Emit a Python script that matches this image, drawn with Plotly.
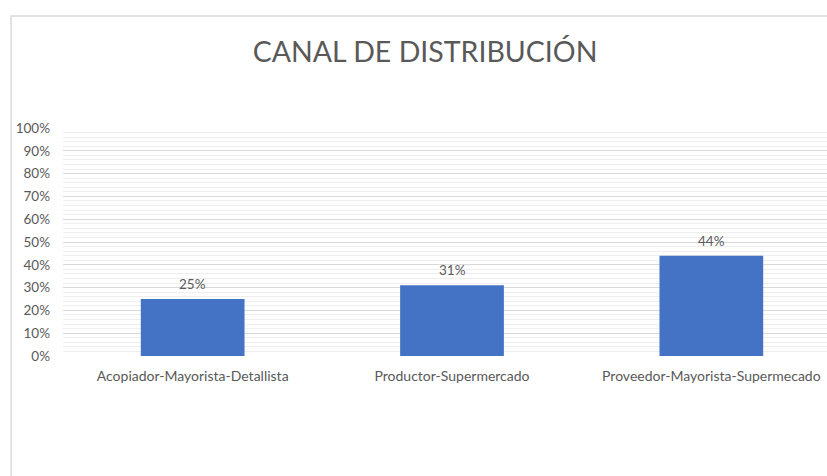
import plotly.graph_objects as go

categories = ['Acopiador-Mayorista-Detallista', 'Productor-Supermercado',
              'Proveedor-Mayorista-Supermecado']
shares = [0.25, 0.31, 0.44]
labels = ['25%', '31%', '44%']

TXT = '#595959'
FONT = 'Lato'

fig = go.Figure()

fig.add_trace(
    go.Bar(
        x=categories,
        y=shares,
        marker={'color': '#4472c4', 'line': {'width': 0}},
        width=0.4,
        hoverinfo='skip',
    )
)

# data labels above each bar
for c, v, t in zip(categories, shares, labels):
    fig.add_annotation(
        x=c, y=v, text=t, showarrow=False,
        yanchor='bottom', yshift=5,
        font={'color': TXT, 'size': 13.5, 'family': FONT},
    )

# chart area border (Excel frame, runs off the page right/bottom)
fig.add_shape(
    type='rect', xref='paper', yref='paper',
    x0=-0.068, x1=1.2, y0=-1.0, y1=1.491,
    line={'color': '#d9d9d9', 'width': 1.5},
    fillcolor='rgba(0,0,0,0)', layer='below',
)

fig.update_xaxes(
    type='category',
    range=[-0.5, 2.446],
    showgrid=False,
    showline=False,
    ticks='',
    ticklabelstandoff=10,
    tickfont={'color': TXT, 'size': 14, 'family': FONT},
)

fig.update_yaxes(
    range=[0, 1.0],
    dtick=0.1,
    tickformat='.0%',
    gridcolor='#d9d9d9',
    gridwidth=1,
    minor={'dtick': 0.02, 'showgrid': True, 'gridcolor': '#eeeeee', 'gridwidth': 1},
    zeroline=False,
    showline=False,
    ticks='',
    ticklabelstandoff=12,
    tickfont={'color': TXT, 'size': 13.5, 'family': FONT},
)

fig.update_layout(
    width=827,
    height=476,
    margin={'l': 63, 'r': 0, 't': 128, 'b': 120},
    paper_bgcolor='white',
    plot_bgcolor='white',
    showlegend=False,
    bargap=0.6,
    title={
        'text': 'CANAL DE DISTRIBUCIÓN',
        'x': 0.514,
        'xanchor': 'center',
        'y': 0.89,
        'yanchor': 'middle',
        'font': {'color': TXT, 'size': 28.5, 'family': FONT},
    },
)

fig.write_html(
    'out.html',
    config={'displayModeBar': False},
    post_script="document.body.style.margin='0';document.body.style.overflow='hidden';",
)
